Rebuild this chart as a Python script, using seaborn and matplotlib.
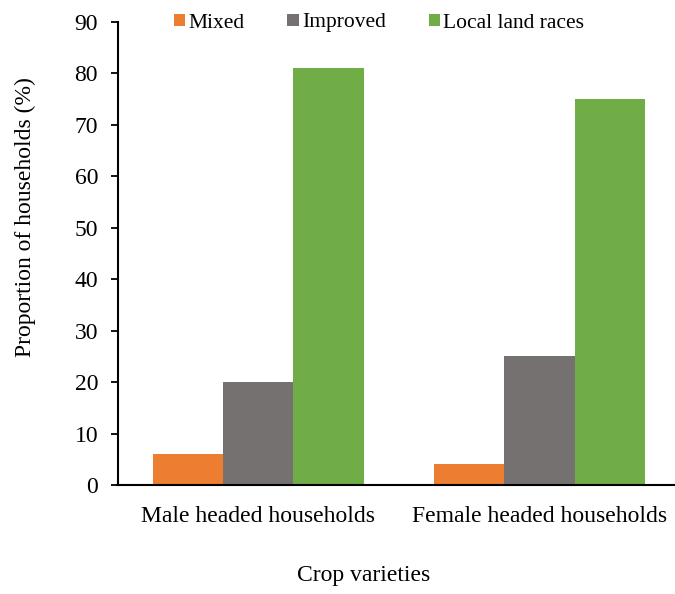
import matplotlib
matplotlib.use("Agg")
import matplotlib.pyplot as plt
import seaborn as sns
import pandas as pd
from matplotlib.patches import Patch

# Household type groups and crop variety shares (%)
groups = ["Male headed households", "Female headed households"]
varieties = ["Mixed", "Improved", "Local land races"]
mixed = [6, 4]
improved = [20, 25]
local = [81, 75]
y_ticks = [0, 10, 20, 30, 40, 50, 60, 70, 80, 90]

colors = {"Mixed": "#ED7D31", "Improved": "#767171", "Local land races": "#70AD47"}

df = pd.DataFrame({
    "group": groups * 3,
    "variety": [v for v in varieties for _ in groups],
    "value": mixed + improved + local,
})

sns.set_theme(style="white")
plt.rcParams["font.family"] = ["Liberation Serif", "DejaVu Serif"]

FS = 17
W, H = 675, 594
fig = plt.figure(figsize=(W / 100, H / 100), dpi=100)
ax = fig.add_axes([117.5 / W, 1 - 485 / H, (680 - 117.5) / W, (485 - 22) / H])

sns.barplot(data=df, x="group", y="value", hue="variety", order=groups,
            hue_order=varieties, palette=colors, width=0.75, saturation=1,
            edgecolor="none", linewidth=0, ax=ax, legend=False)

ax.set_xlim(-0.5, 1.5)
ax.set_ylim(0, 90)
ax.set_yticks(y_ticks)
ax.tick_params(axis="y", which="both", left=True, length=5, width=1.3,
               direction="out", labelsize=FS, pad=9, color="black")
ax.tick_params(axis="x", bottom=False, labelsize=FS, pad=9)
for lab in ax.get_xticklabels() + ax.get_yticklabels():
    lab.set_color("black")

for s in ["top", "right"]:
    ax.spines[s].set_visible(False)
for s in ["left", "bottom"]:
    ax.spines[s].set_color("black")
    ax.spines[s].set_linewidth(1.5)
ax.spines["bottom"].set_zorder(5)

ax.set_xlabel("")
ax.set_ylabel("")
fig.text(25 / W, 1 - 217 / H, "Proportion of households (%)", rotation=90,
         ha="center", va="center", fontsize=FS, color="black")
fig.text(364 / W, 1 - 576 / H, "Crop varieties", ha="center", va="center",
         fontsize=FS, color="black")

handles = [Patch(facecolor=colors[v], edgecolor="none") for v in varieties]
fig.legend(handles, varieties, loc="center", bbox_to_anchor=(379 / W, 1 - 23 / H),
           ncol=3, frameon=False, fontsize=15.5, handlelength=0.52, handleheight=0.52,
           handletextpad=0.15, columnspacing=2.0, labelcolor="black",
           borderpad=0, borderaxespad=0)

fig.savefig("out.png", dpi=100, facecolor="white")
